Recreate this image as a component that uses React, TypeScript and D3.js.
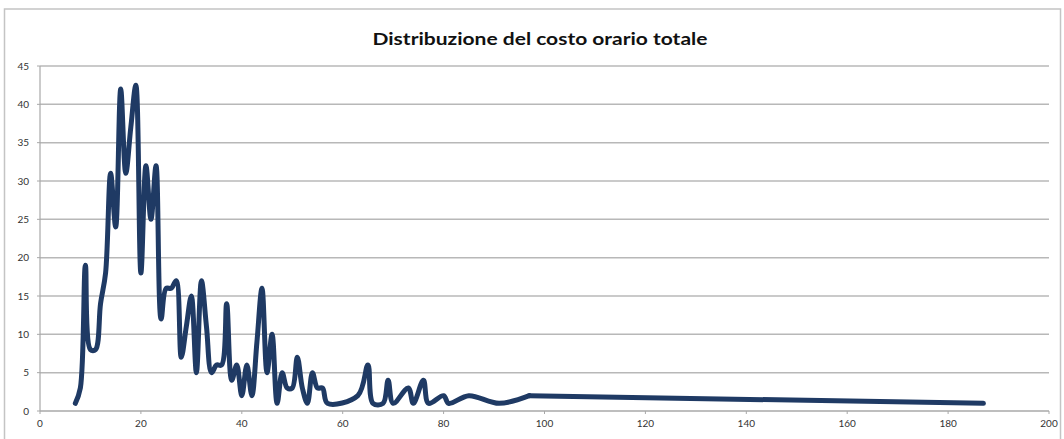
import React from "react";
import * as d3 from "d3";

const title = "Distribuzione del costo orario totale";
const costValues = [7, 8, 9, 10, 11, 12, 13, 14, 15, 16, 17, 18, 19, 20, 21, 22, 23, 24, 25, 26, 27, 28, 29, 30, 31, 32, 33, 34, 35, 36, 37, 38, 39, 40, 41, 42, 43, 44, 45, 46, 47, 48, 49, 50, 51, 52, 53, 54, 55, 56, 57, 63, 65, 66, 68, 69, 70, 73, 74, 76, 77, 80, 81, 85, 91, 97, 187];
const counts = [1, 3, 19, 8, 8, 14, 18, 31, 24, 42, 31, 37, 42.5, 18, 32, 25, 32, 12, 16, 16, 17, 7, 11, 15, 5, 17, 11, 5, 6, 6, 14, 4, 6, 2, 6, 2, 9, 16, 5, 10, 1, 5, 3, 3, 7, 3, 1, 5, 3, 3, 1, 2, 6, 1, 1, 4, 1, 3, 1, 4, 1, 2, 1, 2, 1, 2, 1];
const xTicks = [0, 20, 40, 60, 80, 100, 120, 140, 160, 180, 200];
const yTicks = [0, 5, 10, 15, 20, 25, 30, 35, 40, 45];

export default function App() {
  const W = 1064, H = 439;
  const x = d3.scaleLinear().domain([0, 200]).range([40, 1049]);
  const y = d3.scaleLinear().domain([0, 45]).range([411, 66]);
  const pts: [number, number][] = costValues.map((v, i) => [v, counts[i]]);
  const n = pts.length;
  const headPts = pts.slice(0, n - 1);
  const tailPts = pts.slice(n - 2);
  const smooth = d3
    .line<[number, number]>()
    .x((d) => x(d[0]))
    .y((d) => y(d[1]))
    .curve(d3.curveCatmullRom.alpha(0.5));
  const straight = d3
    .line<[number, number]>()
    .x((d) => x(d[0]))
    .y((d) => y(d[1]));
  const font = "Lato, 'Open Sans', sans-serif";
  const lineStyle = {
    fill: "none",
    stroke: "#1f3a64",
    strokeWidth: 5,
    strokeLinejoin: "round" as const,
    strokeLinecap: "round" as const,
  };
  return (
    <svg
      width={W}
      height={H}
      style={{ position: "absolute", left: 0, top: 0, background: "#fff" }}
    >
      <rect x={4.5} y={9} width={1056} height={445} fill="#fff" stroke="#c4c4c4" strokeWidth={1.5} />
      <text
        x={540}
        y={45}
        textAnchor="middle"
        fontFamily={font}
        fontWeight="bold"
        fontSize={17}
        fill="#111"
        textLength={335}
        lengthAdjust="spacingAndGlyphs"
      >
        {title}
      </text>
      {yTicks.map((t) => (
        <g key={"y" + t}>
          <line
            x1={x(0)}
            x2={x(200)}
            y1={y(t)}
            y2={y(t)}
            stroke={t === 0 ? "#a8a8a8" : "#b8b8b8"}
            strokeWidth={1.5}
          />
          <line x1={x(0) - 3} x2={x(0)} y1={y(t)} y2={y(t)} stroke="#a8a8a8" strokeWidth={1} />
          <text
            x={29}
            y={y(t) + 3.5}
            textAnchor="end"
            fontFamily={font}
            fontSize={10}
            fill="#333"
          >
            {t}
          </text>
        </g>
      ))}
      <line x1={x(0)} x2={x(0)} y1={y(45)} y2={y(0)} stroke="#a8a8a8" strokeWidth={1.2} />
      {xTicks.map((t) => (
        <g key={"x" + t}>
          <line x1={x(t)} x2={x(t)} y1={y(0)} y2={y(0) + 3} stroke="#a8a8a8" strokeWidth={1} />
          <text
            x={x(t)}
            y={427}
            textAnchor="middle"
            fontFamily={font}
            fontSize={10}
            fill="#333"
          >
            {t}
          </text>
        </g>
      ))}
      <path d={smooth(headPts) || ""} {...lineStyle} />
      <path d={straight(tailPts) || ""} {...lineStyle} />
    </svg>
  );
}
